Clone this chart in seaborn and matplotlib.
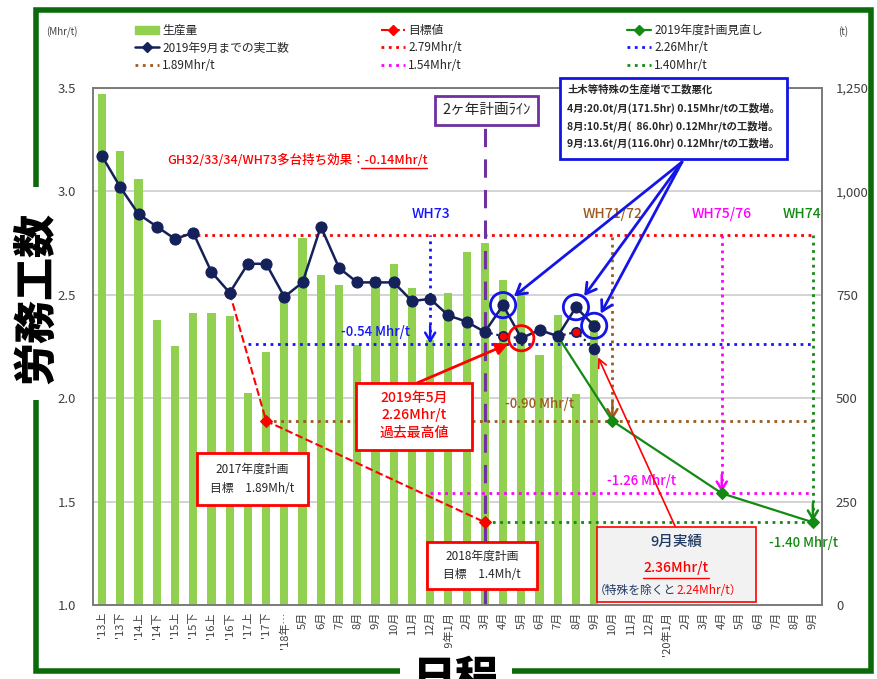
import numpy as np
import pandas as pd
import seaborn as sns
import matplotlib.pyplot as plt
import matplotlib.ticker as mtick
from matplotlib.lines import Line2D
from matplotlib.patches import Patch, Rectangle

# ---- data ----
periods = ["'13上", "'13下", "'14上", "'14下", "'15上", "'15下", "'16上", "'16下",
           "'17上", "'17下", "'18年…", "5月", "6月", "7月", "8月", "9月", "10月",
           "11月", "12月", "'19年1月", "2月", "3月", "4月", "5月", "6月", "7月",
           "8月", "9月", "10月", "11月", "12月", "'20年1月", "2月", "3月", "4月",
           "5月", "6月", "7月", "8月", "9月"]
production = [1235, 1098, 1030, 689, 626, 706, 706, 699, 513, 612, 742, 887, 798, 774,
              629, 793, 824, 766, 640, 754, 853, 875, 786, 762, 604, 701, 510, 689]
actual = [3.17, 3.02, 2.89, 2.83, 2.77, 2.80, 2.61, 2.51, 2.65, 2.65, 2.49, 2.56, 2.83, 2.63,
          2.56, 2.56, 2.56, 2.47, 2.48, 2.40, 2.37, 2.32, 2.45, 2.29, 2.33, 2.30, 2.44, 2.35]
target_pos = [7, 9, 21]
target_val = [2.51, 1.89, 1.40]
plan_pos = [25, 28, 34, 39]
plan_val = [2.30, 1.89, 1.54, 1.40]
excl_pos_apr = [21, 22, 23]
excl_val_apr = [2.32, 2.30, 2.29]
excl_pos_aug = [25, 26, 27]
excl_val_aug = [2.30, 2.32, 2.24]
ref_levels = [2.79, 2.26, 1.89, 1.54, 1.40]
ref_start = [4, 8, 9, 18, 21]
ref_colors = ['#ff0000', '#1414ff', '#9c5b1e', '#ff00ff', '#138a13']
wh_names = ['WH73', 'WH71/72', 'WH75/76', 'WH74']
wh_pos = [18, 28, 34, 39]
wh_label_x = [18.05, 28.0, 34.0, 38.4]
wh_level = [2.26, 1.89, 1.54, 1.40]
wh_delta = ['-0.54 Mhr/t', '-0.90 Mhr/t', '-1.26 Mhr/t', '-1.40 Mhr/t']
wh_delta_xy = [(15.0, 2.32), (24.0, 1.97), (29.6, 1.60), (38.5, 1.30)]
special_pos = [22, 26, 27]
best_pos = 23
plan_line_pos = 21

bar_green = '#92d050'
navy = '#14215a'
blue = '#1414e6'
red = '#ff0000'
purple = '#7030a0'

sns.set_theme(style='white')
plt.rcParams['font.family'] = ['Noto Sans CJK JP', 'DejaVu Sans']

W, H = 877, 679
def fx(px):
    return px / W
def fy(py):
    return 1 - py / H

fig = plt.figure(figsize=(W / 100, H / 100), dpi=100)
ax = fig.add_axes([fx(93), fy(605), fx(822) - fx(93), fy(88) - fy(605)])
axr = ax.twinx()
ax.set_zorder(2)
axr.set_zorder(1)
ax.patch.set_visible(False)

# production bars on the right axis
df_bar = pd.DataFrame({'pos': np.arange(len(production)), 'ton': production})
sns.barplot(data=df_bar, x='pos', y='ton', ax=axr, color=bar_green, width=0.45,
            saturation=1, errorbar=None, linewidth=0, native_scale=True)

# reference levels and WH arrows
for lv, st, c in zip(ref_levels, ref_start, ref_colors):
    ax.hlines(lv, st, len(periods) - 1, colors=c, linestyles=':', lw=2, zorder=2)
for name, p, lx, lv, c, d, dxy in zip(wh_names, wh_pos, wh_label_x, wh_level,
                                      ref_colors[1:], wh_delta, wh_delta_xy):
    ax.vlines(p, lv + 0.06, ref_levels[0], colors=c, linestyles=':', lw=2, zorder=2)
    ax.annotate('', xy=(p, lv + 0.005), xytext=(p, lv + 0.09),
                arrowprops=dict(arrowstyle='->,head_length=0.5,head_width=0.3',
                                color=c, lw=1.8, shrinkA=0, shrinkB=0))
    ax.text(lx, 2.89, name, color=c, fontsize=10, ha='center', va='center',
            weight='medium')
    ax.text(dxy[0], dxy[1], d, color=c, fontsize=9.5, ha='center', va='center',
            clip_on=False, weight='medium')

# 2-year plan line
ax.vlines(plan_line_pos, 1.0, 3.33, colors=purple, linestyles=(0, (6, 4)), lw=2.2, zorder=2)

# target and revised plan
sns.lineplot(x=target_pos, y=target_val, ax=ax, color=red, lw=1.5, linestyle='--',
             marker='D', markersize=6, markeredgecolor=red, zorder=3)
sns.lineplot(x=plan_pos, y=plan_val, ax=ax, color='#138a13', lw=1.6, marker='D',
             markersize=6, markeredgecolor='#138a13', markevery=[1, 2, 3], zorder=3)

# values without special production
for xs, ys in [(excl_pos_apr, excl_val_apr), (excl_pos_aug, excl_val_aug)]:
    sns.lineplot(x=xs, y=ys, ax=ax, color=navy, lw=1.6, linestyle=':', zorder=3)
sns.scatterplot(x=[excl_pos_apr[1], excl_pos_aug[1]], y=[excl_val_apr[1], excl_val_aug[1]],
                ax=ax, color=red, edgecolor=navy, s=45, linewidth=1.2, zorder=4)
sns.scatterplot(x=[excl_pos_aug[2]], y=[excl_val_aug[2]], ax=ax, color=navy,
                edgecolor=navy, s=60, zorder=4)

# actual man-hours
sns.lineplot(x=np.arange(len(actual)), y=actual, ax=ax, color=navy, lw=1.8, marker='o',
             markersize=8, markeredgecolor=navy, zorder=5)

# circles
ax.scatter(special_pos, [actual[i] for i in special_pos], s=330, facecolors='none',
           edgecolors=blue, linewidths=2, zorder=6)
ax.scatter([best_pos], [actual[best_pos]], s=330, facecolors='none',
           edgecolors=red, linewidths=2, zorder=6)

# axes styling
ax.set_xlim(-0.5, len(periods) - 0.5)
ax.set_ylim(1.0, 3.5)
axr.set_ylim(0, 1250)
ax.set_yticks(np.arange(1.0, 3.51, 0.5))
axr.set_yticks(np.arange(0, 1251, 250))
ax.yaxis.set_major_formatter(mtick.FormatStrFormatter('%.1f'))
axr.yaxis.set_major_formatter(mtick.StrMethodFormatter('{x:,.0f}'))
ax.set_xticks(np.arange(len(periods)))
ax.set_xticklabels(periods, rotation=90, fontsize=8, color='#404040')
ax.tick_params(axis='x', length=0, pad=5)
ax.tick_params(axis='y', length=0, pad=12, labelsize=9.5, labelcolor='#404040')
axr.tick_params(axis='y', length=0, pad=10, labelsize=9.5, labelcolor='#404040')
axr.yaxis.grid(True, color='#cccccc', lw=1.2)
axr.set_axisbelow(True)
ax.grid(False)
for a in (ax, axr):
    a.set_xlabel('')
    a.set_ylabel('')
    for s in a.spines.values():
        s.set_color('#7a7a7a')
        s.set_linewidth(1.2)

# annotation arrows
src = (fx(682), fy(162))
for p in special_pos:
    ax.annotate('', xy=(p, actual[p]), xycoords='data', xytext=src,
                textcoords='figure fraction',
                arrowprops=dict(arrowstyle='->,head_length=0.6,head_width=0.35',
                                color=blue, lw=2, shrinkA=0, shrinkB=10))
ax.annotate('', xy=(best_pos, actual[best_pos]), xycoords='data',
            xytext=(fx(417), fy(383)), textcoords='figure fraction',
            arrowprops=dict(arrowstyle='-|>,head_length=0.6,head_width=0.3',
                            color=red, lw=2, shrinkA=0, shrinkB=10))
ax.annotate('', xy=(excl_pos_aug[2], excl_val_aug[2]), xycoords='data',
            xytext=(fx(675), fy(526)), textcoords='figure fraction',
            arrowprops=dict(arrowstyle='->,head_length=0.5,head_width=0.25',
                            color=red, lw=1.2, shrinkA=0, shrinkB=7))


def box(x0, y0, x1, y1, ec, fc='white', lw=2, z=8):
    fig.add_artist(Rectangle((fx(x0), fy(y1)), fx(x1) - fx(x0), fy(y0) - fy(y1),
                             transform=fig.transFigure, fc=fc, ec=ec, lw=lw, zorder=z))


def ftext(px, py, s, **kw):
    kw.setdefault('ha', 'center')
    kw.setdefault('va', 'center')
    fig.text(fx(px), fy(py), s, zorder=9, **kw)


box(435, 96, 538, 125, purple)
ftext(487, 110, '2ヶ年計画ﾗｲﾝ', fontsize=10.5)

box(560, 78, 787, 159, blue)
for py, s in zip([89, 108, 126, 143],
                 ['土木等特殊の生産増で工数悪化',
                  '4月:20.0t/月(171.5hr) 0.15Mhr/tの工数増。',
                  '8月:10.5t/月(  86.0hr) 0.12Mhr/tの工数増。',
                  '9月:13.6t/月(116.0hr) 0.12Mhr/tの工数増。']):
    ftext(567, py, s, ha='left', fontsize=7.5, weight='bold')

ftext(297, 160, 'GH32/33/34/WH73多台持ち効果：-0.14Mhr/t', color=red, fontsize=9,
      weight='medium')
fig.add_artist(Line2D([fx(361), fx(427)], [fy(168), fy(168)], color=red, lw=1,
                      transform=fig.transFigure))

box(356, 383, 472, 450, red)
for py, s in zip([398, 415, 433], ['2019年5月', '2.26Mhr/t', '過去最高値']):
    ftext(414, py, s, color=red, fontsize=10, weight='medium')

box(197, 453, 308, 505, red)
ftext(252, 469, '2017年度計画', fontsize=8.5)
ftext(252, 488, '目標　1.89Mh/t', fontsize=8.5)

box(427, 542, 537, 589, red)
ftext(482, 556, '2018年度計画', fontsize=8.5)
ftext(482, 575, '目標　1.4Mh/t', fontsize=8.5)

box(597, 527, 756, 602, red, fc='#f2f2f2', lw=1.2)
ftext(676, 542, '9月実績', color='#1f3864', fontsize=10.5, weight='medium')
ftext(676, 568, '2.36Mhr/t', color=red, fontsize=10, weight='medium')
fig.add_artist(Line2D([fx(643), fx(709)], [fy(578), fy(578)], color=red, lw=1,
                      transform=fig.transFigure, zorder=9))
ftext(676, 590, '（特殊を除くと', color='#1f3864', fontsize=8.5, ha='right')
ftext(676, 590, '2.24Mhr/t）', color=red, fontsize=8.5, ha='left')

# legend, three columns
cols = [
    ([Patch(color=bar_green),
      Line2D([], [], color=navy, lw=1.8, marker='D', markersize=5),
      Line2D([], [], color=ref_colors[2], lw=2, ls=':')],
     ['生産量', '2019年9月までの実工数', '1.89Mhr/t'], 135),
    ([Line2D([], [], color=red, lw=1.5, ls='--', marker='D', markersize=5),
      Line2D([], [], color=ref_colors[0], lw=2, ls=':'),
      Line2D([], [], color=ref_colors[3], lw=2, ls=':')],
     ['目標値', '2.79Mhr/t', '1.54Mhr/t'], 381),
    ([Line2D([], [], color='#138a13', lw=1.6, marker='D', markersize=5),
      Line2D([], [], color=ref_colors[1], lw=2, ls=':'),
      Line2D([], [], color=ref_colors[4], lw=2, ls=':')],
     ['2019年度計画見直し', '2.26Mhr/t', '1.40Mhr/t'], 627),
]
for handles, labels, px in cols:
    fig.legend(handles, labels, loc='upper left', bbox_to_anchor=(fx(px), fy(24)),
               frameon=False, fontsize=8.5, handlelength=2, handletextpad=0.3,
               labelspacing=0.38, borderpad=0, borderaxespad=0)

ftext(62, 32, '(Mhr/t)', fontsize=7, color='#404040')
ftext(843, 32, '(t)', fontsize=7, color='#404040')

# outer border, gaps for the big titles
fig.add_artist(Rectangle((fx(36), fy(671)), fx(871) - fx(36), fy(10) - fy(671),
                         transform=fig.transFigure, fill=False, ec='#0b6b0b', lw=4,
                         zorder=0.5))
box(28, 187, 46, 400, 'none', fc='white', lw=0, z=0.6)
box(400, 648, 512, 679, 'none', fc='white', lw=0, z=2.5)
fig.text(fx(36), fy(298), '労務工数', rotation=90, ha='center', va='center',
         fontsize=31, weight='heavy', color='black', zorder=10)
fig.text(fx(456), fy(658), '日程', ha='center', va='top', fontsize=31, weight='heavy',
         color='black', zorder=10)

fig.savefig('out.png', dpi=100)
